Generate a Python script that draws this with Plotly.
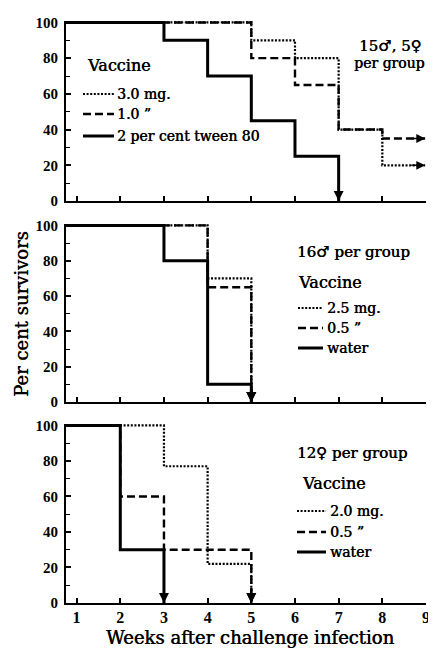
import plotly.graph_objects as go

# The page body has an 8 px margin, so the figure is drawn 8 px in from the
# top-left corner of the 436x654 window.
OFF = 8
W, H = 436 - OFF, 654 - OFF
X_MIN, X_MAX = 0.757, 9.0

week_ticks = [1, 2, 3, 4, 5, 6, 7, 8, 9]
y_ticks = [0, 20, 40, 60, 80, 100]

# Panel 1: 15 males, 5 females per group
p1_note = ["15\u2642, 5\u2640", "per group"]
p1_labels = ["3.0 mg.", "1.0 \u201d", "2 per cent tween 80"]
p1_dotted_weeks = [5, 6, 7, 8]
p1_dotted = [100, 90, 80, 40, 20]
p1_dashed_weeks = [5, 6, 7, 8]
p1_dashed = [100, 80, 65, 40, 35]
p1_solid_weeks = [3, 4, 5, 6, 7]
p1_solid = [100, 90, 70, 45, 25, 0]

# Panel 2: 16 males per group
p2_note = ["16\u2642 per group"]
p2_labels = ["2.5 mg.", "0.5 \u201d", "water"]
p2_dotted_weeks = [4, 5]
p2_dotted = [100, 70, 0]
p2_dashed_weeks = [4, 5]
p2_dashed = [100, 65, 0]
p2_solid_weeks = [3, 4, 5]
p2_solid = [100, 80, 10, 0]

# Panel 3: 12 females per group
p3_note = ["12\u2640 per group"]
p3_labels = ["2.0 mg.", "0.5 \u201d", "water"]
p3_dotted_weeks = [3, 4, 5]
p3_dotted = [100, 77, 22, 0]
p3_dashed_weeks = [2, 3, 5]
p3_dashed = [100, 60, 30, 0]
p3_solid_weeks = [2, 3]
p3_solid = [100, 30, 0]

TXT = "DejaVu Serif"
NUM = "Liberation Serif"
SHADOW = "0.5px 0 0 black"

STY = {
    "dot": dict(color="black", width=2.2, dash="2px,1.6px"),
    "dash": dict(color="black", width=2.4, dash="8px,4px"),
    "solid": dict(color="black", width=3),
}

def px_x(p):
    return (p - OFF) / W

def px_y(p):
    return 1 - (p - OFF) / H

panels = [
    dict(ax="", ypx=(22, 201),
         series=[(p1_dotted_weeks, p1_dotted, "dot"),
                 (p1_dashed_weeks, p1_dashed, "dash"),
                 (p1_solid_weeks, p1_solid, "solid")]),
    dict(ax="2", ypx=(225, 402),
         series=[(p2_dotted_weeks, p2_dotted, "dot"),
                 (p2_dashed_weeks, p2_dashed, "dash"),
                 (p2_solid_weeks, p2_solid, "solid")]),
    dict(ax="3", ypx=(425, 603),
         series=[(p3_dotted_weeks, p3_dotted, "dot"),
                 (p3_dashed_weeks, p3_dashed, "dash"),
                 (p3_solid_weeks, p3_solid, "solid")]),
]

fig = go.Figure()
annotations = []
shapes = []
layout = {}

for i, p in enumerate(panels):
    xa, ya = "x" + p["ax"], "y" + p["ax"]
    for weeks, vals, sty in p["series"]:
        xs = [X_MIN] + list(weeks)
        ys = list(vals)
        open_end = ys[-1] != 0
        if open_end:
            xs.append(X_MAX - 0.02)
            ys.append(ys[-1])
        fig.add_trace(go.Scatter(x=xs, y=ys, mode="lines", line=STY[sty],
                                 line_shape="hv", xaxis=xa, yaxis=ya,
                                 showlegend=False, hoverinfo="skip"))
        if open_end:
            annotations.append(dict(x=xs[-1], y=ys[-1], ax=xs[-1] - 0.35, ay=ys[-1],
                                    xref=xa, yref=ya, axref=xa, ayref=ya,
                                    showarrow=True, arrowhead=2, arrowsize=1.1,
                                    arrowwidth=1.6, arrowcolor="black", text=""))
        else:
            annotations.append(dict(x=xs[-1], y=0, ax=xs[-1], ay=9,
                                    xref=xa, yref=ya, axref=xa, ayref=ya,
                                    showarrow=True, arrowhead=2, arrowsize=1.1,
                                    arrowwidth=1.8, arrowcolor="black", text=""))
    top, bot = p["ypx"]
    layout["xaxis" + p["ax"]] = dict(
        domain=[px_x(66), px_x(426)], anchor=ya, range=[X_MIN, X_MAX],
        showline=True, linewidth=2, linecolor="black", mirror=False,
        ticks="inside", ticklen=5, tickwidth=1.5, tickcolor="black",
        tickvals=week_ticks, showticklabels=(i == 2), showgrid=False, zeroline=False,
        tickfont=dict(family=NUM, size=16, color="black", weight="bold"),
        ticklabeloverflow="allow",
        ticklabelstandoff=-1, fixedrange=True)
    layout["yaxis" + p["ax"]] = dict(
        domain=[px_y(bot), px_y(top - 1)], anchor=xa, range=[0, 100.8],
        showline=True, linewidth=2, linecolor="black",
        ticks="inside", ticklen=5, tickwidth=1.5, tickcolor="black",
        tickvals=y_ticks, showgrid=False, zeroline=False,
        minor=dict(ticks="inside", tickvals=[10, 30, 50, 70, 90], ticklen=4,
                   tickwidth=1.2, tickcolor="black"),
        tickfont=dict(family=NUM, size=15, color="black", weight="bold"),
        ticklabelstandoff=3, fixedrange=True)

def text(x, y, s, size=14, anchor="left"):
    annotations.append(dict(x=px_x(x), y=px_y(y), xref="paper", yref="paper",
                            text=s, showarrow=False, xanchor=anchor, yanchor="middle",
                            borderpad=0,
                            font=dict(family=TXT, size=size, color="black",
                                      shadow=SHADOW)))

def sample(x0, x1, y, sty):
    shapes.append(dict(type="line", xref="paper", yref="paper",
                       x0=px_x(x0), x1=px_x(x1), y0=px_y(y), y1=px_y(y),
                       line=STY[sty]))

# Panel 1 legend and note
text(390, 46, p1_note[0], 15, "center")
text(389, 63, p1_note[1], 14, "center")
text(86, 65, "Vaccine", 16)
for (yy, lab, sty) in zip([94, 114, 136], p1_labels, ["dot", "dash", "solid"]):
    sample(83, 114, yy, sty)
    text(116, yy, lab, 14)

# Panel 2 legend and note
text(296, 252, p2_note[0], 15)
text(297, 282, "Vaccine", 16)
for (yy, lab, sty) in zip([308, 328, 348], p2_labels, ["dot", "dash", "solid"]):
    sample(298, 323, yy, sty)
    text(326, yy, lab, 14)

# Panel 3 legend and note
text(296, 453, p3_note[0], 15)
text(301, 483, "Vaccine", 16)
for (yy, lab, sty) in zip([511, 532, 552], p3_labels, ["dot", "dash", "solid"]):
    sample(297, 326, yy, sty)
    text(329, yy, lab, 14)

# Axis titles
annotations.append(dict(x=px_x(22), y=px_y(314), xref="paper", yref="paper",
                        text="Per cent survivors", textangle=-90, showarrow=False,
                        xanchor="center", yanchor="middle",
                        font=dict(family=TXT, size=18, color="black", shadow=SHADOW)))
annotations.append(dict(x=px_x(250), y=px_y(637), xref="paper", yref="paper",
                        text="Weeks after challenge infection", showarrow=False,
                        xanchor="center", yanchor="middle",
                        font=dict(family=TXT, size=18, color="black", shadow=SHADOW)))

fig.update_layout(width=W, height=H,
                  margin=dict(l=0, r=0, t=0, b=0, autoexpand=False),
                  paper_bgcolor="white", plot_bgcolor="white",
                  annotations=annotations, shapes=shapes, showlegend=False,
                  **layout)

fig.write_html("out.html")
